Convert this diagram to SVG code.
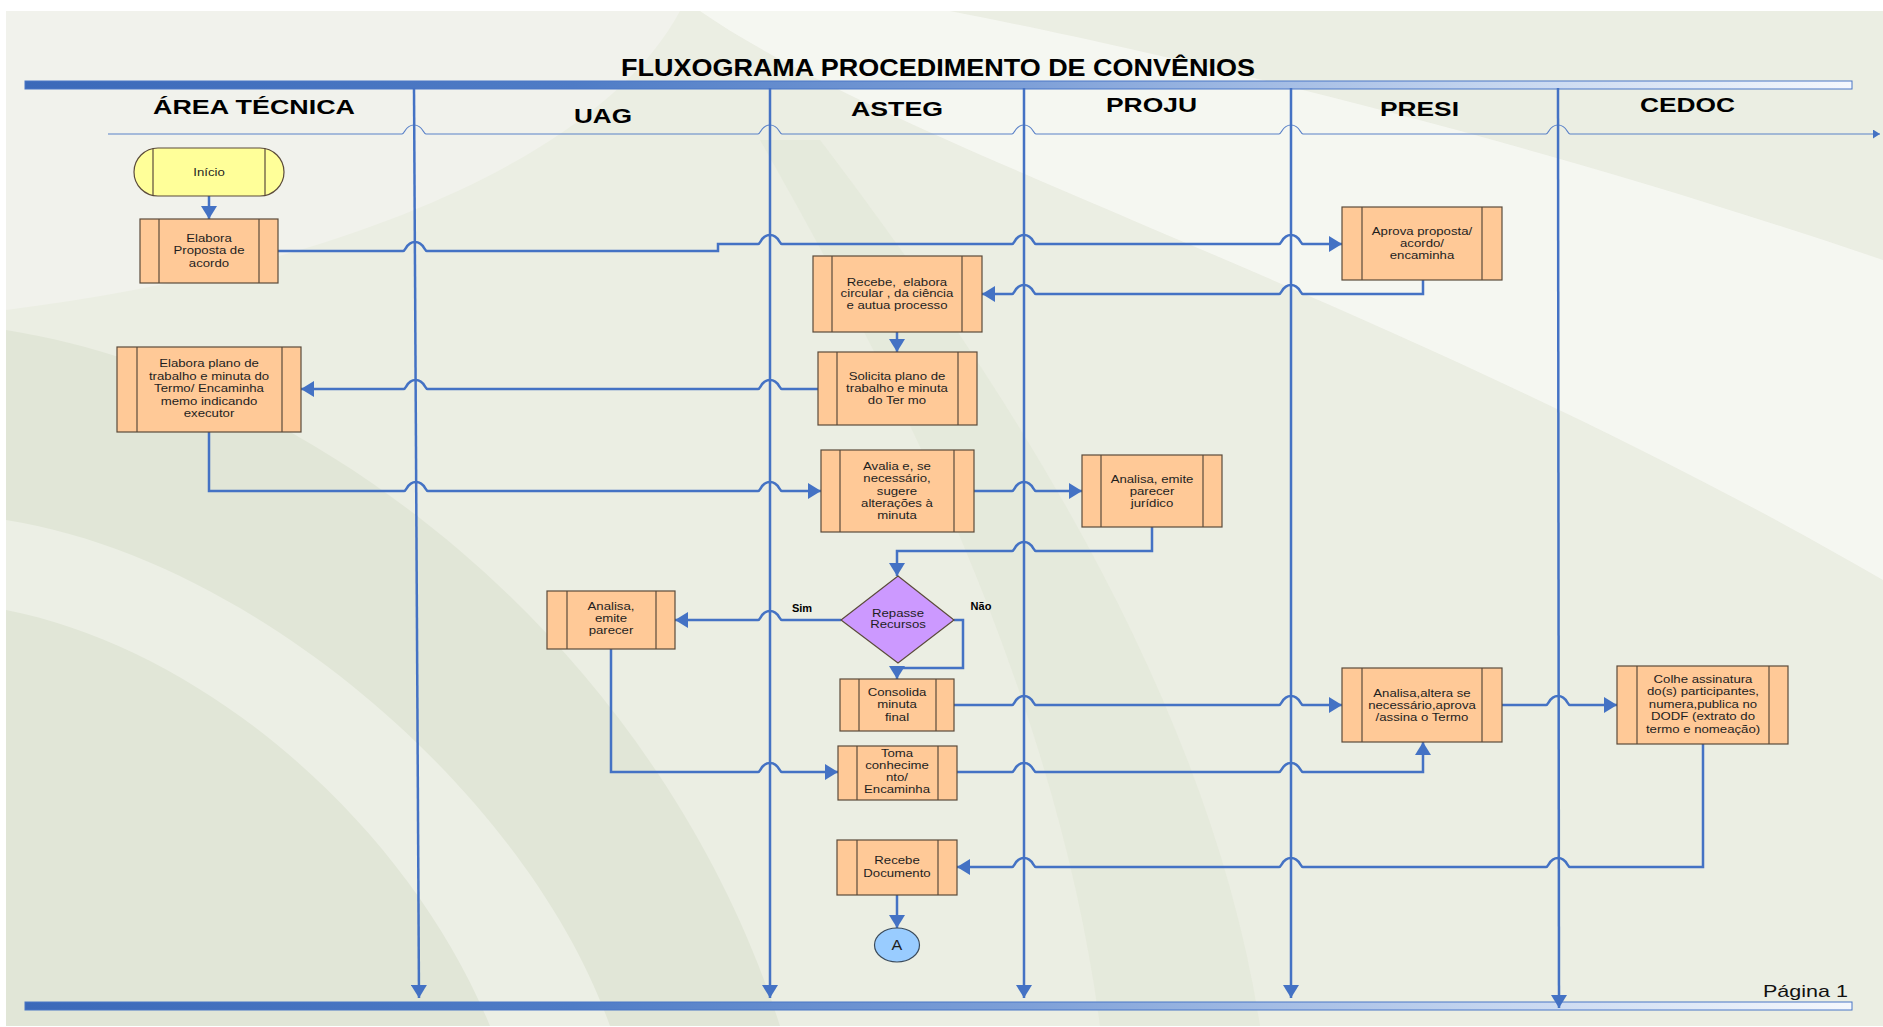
<svg xmlns="http://www.w3.org/2000/svg" width="1883" height="1027" viewBox="0 0 1883 1027">
<defs>
<linearGradient id="barG" x1="0" y1="0" x2="1" y2="0">
<stop offset="0" stop-color="#3B69B9"/>
<stop offset="0.3" stop-color="#4F7CC6"/>
<stop offset="0.55" stop-color="#7EA0D8"/>
<stop offset="0.8" stop-color="#C4D5EF"/>
<stop offset="1" stop-color="#F5F8FD"/>
</linearGradient>
<marker id="ah" markerUnits="userSpaceOnUse" markerWidth="13" markerHeight="16" viewBox="0 0 13 16" refX="13" refY="8" orient="auto"><path d="M0,0 L13,8 L0,16 Z" fill="#4472C4"/></marker>
<marker id="ahs" markerUnits="userSpaceOnUse" markerWidth="7" markerHeight="9" viewBox="0 0 7 9" refX="7" refY="4.5" orient="auto"><path d="M0,0 L7,4.5 L0,9 Z" fill="#4472C4"/></marker>
<style>
.box{fill:#FFC997;stroke:#5B4B3B;stroke-width:1.2}
.div{stroke:#5B4B3B;stroke-width:1.2}
.t text{font-family:"Liberation Sans",Arial,sans-serif;font-size:11px;fill:#1E1E1E;text-anchor:middle}
.lane{fill:none;stroke:#4472C4;stroke-width:2.5;marker-end:url(#ah)}
.con{fill:none;stroke:#4472C4;stroke-width:2.5;marker-end:url(#ah)}
.con2{fill:none;stroke:#4472C4;stroke-width:2.5}
.hdr{font-family:"Liberation Sans",Arial,sans-serif;font-weight:bold;font-size:21px;fill:#000}
.lbl{font-family:"Liberation Sans",Arial,sans-serif;font-weight:bold;font-size:11px;fill:#000;text-anchor:middle}
</style>
</defs>
<!-- background -->
<rect x="0" y="0" width="1883" height="1027" fill="#FFFFFF"/>
<rect x="6" y="11" width="1877" height="1015" fill="#EBEEE3"/>
<path d="M6,11 H680 C600,160 330,270 6,310 Z" fill="#F1F2EC"/>
<path d="M700,11 C900,150 1400,300 1883,580 L1883,260 C1500,130 1150,50 950,11 Z" fill="#F7F8F3" opacity="0.85"/>
<path d="M6,330 C320,380 660,650 780,1026 L6,1026 Z" fill="#E1E6D7"/>
<path d="M6,520 C260,560 530,800 610,1026 L490,1026 C410,830 210,650 6,610 Z" fill="#ECEFE5"/>
<path d="M760,140 C920,420 1060,720 1100,1026 L1260,1026 C1210,700 1010,390 820,140 Z" fill="#E3E8DA" opacity="0.8"/>

<!-- header -->
<g id="header">
<rect x="25" y="81" width="1827" height="8" fill="url(#barG)" stroke="#4A76C6" stroke-width="1"/>
<rect x="25" y="1002" width="1827" height="8" fill="url(#barG)" stroke="#4A76C6" stroke-width="1"/>
<text x="621" y="76" class="hdr" font-size="23" textLength="634" lengthAdjust="spacingAndGlyphs" style="font-size:23px">FLUXOGRAMA PROCEDIMENTO DE CONVÊNIOS</text>
<text x="153" y="114" class="hdr" textLength="202" lengthAdjust="spacingAndGlyphs">ÁREA TÉCNICA</text>
<text x="574" y="123" class="hdr" textLength="58" lengthAdjust="spacingAndGlyphs">UAG</text>
<text x="851" y="116" class="hdr" textLength="92" lengthAdjust="spacingAndGlyphs">ASTEG</text>
<text x="1106" y="112" class="hdr" textLength="91" lengthAdjust="spacingAndGlyphs">PROJU</text>
<text x="1380" y="116" class="hdr" textLength="79" lengthAdjust="spacingAndGlyphs">PRESI</text>
<text x="1640" y="112" class="hdr" textLength="95" lengthAdjust="spacingAndGlyphs">CEDOC</text>
<text x="1763" y="997" font-family="Liberation Sans, Arial, sans-serif" font-size="17" fill="#111" textLength="85" lengthAdjust="spacingAndGlyphs">Página 1</text>
<path d="M108,134 H402 C405,134 405,125 414,125 C423,125 423,134 426,134 H758 C761,134 761,125 770,125 C779,125 779,134 782,134 H1012 C1015,134 1015,125 1024,125 C1033,125 1033,134 1036,134 H1279 C1282,134 1282,125 1291,125 C1300,125 1300,134 1303,134 H1546 C1549,134 1549,125 1558,125 C1567,125 1567,134 1570,134 H1880" fill="none" stroke="#5B82C8" stroke-width="1.2" marker-end="url(#ahs)"/>
</g>

<!-- lanes -->
<g id="lanes">
<path class="lane" d="M414,88 L419,998"/>
<path class="lane" d="M770,88 V998"/>
<path class="lane" d="M1024,88 V998"/>
<path class="lane" d="M1291,88 V998"/>
<path class="lane" d="M1558,88 L1559,1008"/>
</g>

<!-- connectors -->
<g id="connectors">
<path class="con" d="M209,196 V219"/>
<path class="con" d="M278,251 H403 C406,251 406,242 415,242 C424,242 424,251 427,251 H718 V244 H758 C761,244 761,235 770,235 C779,235 779,244 782,244 H1012 C1015,244 1015,235 1024,235 C1033,235 1033,244 1036,244 H1279 C1282,244 1282,235 1291,235 C1300,235 1300,244 1303,244 H1342"/>
<path class="con" d="M1423,280 V294 H1303 C1300,294 1300,285 1291,285 C1282,285 1282,294 1279,294 H1036 C1033,294 1033,285 1024,285 C1015,285 1015,294 1012,294 H982"/>
<path class="con" d="M897,332 V352"/>
<path class="con" d="M818,389 H782 C779,389 779,380 770,380 C761,380 761,389 758,389 H427.6 C424.6,389 424.6,380 415.6,380 C406.6,380 406.6,389 403.6,389 H301"/>
<path class="con" d="M209,432 V491 H404 C407,491 407,482 416,482 C425,482 425,491 428,491 H758 C761,491 761,482 770,482 C779,482 779,491 782,491 H821"/>
<path class="con" d="M974,491 H1012 C1015,491 1015,482 1024,482 C1033,482 1033,491 1036,491 H1082"/>
<path class="con" d="M1152,527 V551 H1036 C1033,551 1033,542 1024,542 C1015,542 1015,551 1012,551 H897 V576"/>
<path class="con" d="M841,620 H782 C779,620 779,611 770,611 C761,611 761,620 758,620 H675"/>
<path class="con" d="M954,620 H963 V668 H897 V679"/>
<path class="con" d="M611,649 V772 H758 C761,772 761,763 770,763 C779,763 779,772 782,772 H838"/>
<path class="con" d="M954,705 H1012 C1015,705 1015,696 1024,696 C1033,696 1033,705 1036,705 H1279 C1282,705 1282,696 1291,696 C1300,696 1300,705 1303,705 H1342"/>
<path class="con" d="M957,772 H1012 C1015,772 1015,763 1024,763 C1033,763 1033,772 1036,772 H1279 C1282,772 1282,763 1291,763 C1300,763 1300,772 1303,772 H1423 V742"/>
<path class="con" d="M1502,705 H1546 C1549,705 1549,696 1558,696 C1567,696 1567,705 1570,705 H1617"/>
<path class="con" d="M1703,744 V867 H1570 C1567,867 1567,858 1558,858 C1549,858 1549,867 1546,867 H1303 C1300,867 1300,858 1291,858 C1282,858 1282,867 1279,867 H1036 C1033,867 1033,858 1024,858 C1015,858 1015,867 1012,867 H957"/>
<path class="con" d="M897,895 V928"/>
<text class="lbl" x="802" y="612">Sim</text>
<text class="lbl" x="981" y="610">Não</text>
</g>

<!-- nodes -->
<g id="n-inicio">
<path d="M158,148 H260 A24,24 0 0 1 260,196 H158 A24,24 0 0 1 158,148 Z" fill="#FFFF99" stroke="#5B4B3B" stroke-width="1.2"/>
<line class="div" x1="153" y1="148.5" x2="153" y2="195.5"/>
<line class="div" x1="265" y1="148.5" x2="265" y2="195.5"/>
<g class="t" transform="translate(209,0) scale(1.2,1)"><text y="176">Início</text></g>
</g>

<g id="n-elabora-proposta">
<rect class="box" x="140" y="219" width="138" height="64"/>
<line class="div" x1="159" y1="219" x2="159" y2="283"/>
<line class="div" x1="259" y1="219" x2="259" y2="283"/>
<g class="t" transform="translate(209,0) scale(1.2,1)"><text y="242">Elabora</text><text y="254.5">Proposta de</text><text y="267">acordo</text></g>
</g>

<g id="n-aprova">
<rect class="box" x="1342" y="207" width="160" height="73"/>
<line class="div" x1="1362" y1="207" x2="1362" y2="280"/>
<line class="div" x1="1482" y1="207" x2="1482" y2="280"/>
<g class="t" transform="translate(1422,0) scale(1.2,1)"><text y="235">Aprova proposta/</text><text y="247">acordo/</text><text y="259">encaminha</text></g>
</g>

<g id="n-recebe-elabora">
<rect class="box" x="813" y="256" width="169" height="76"/>
<line class="div" x1="832" y1="256" x2="832" y2="332"/>
<line class="div" x1="962" y1="256" x2="962" y2="332"/>
<g class="t" transform="translate(897,0) scale(1.2,1)"><text y="286" xml:space="preserve">Recebe,  elabora</text><text y="297.5">circular , da ciência</text><text y="309">e autua processo</text></g>
</g>

<g id="n-solicita">
<rect class="box" x="818" y="352" width="159" height="73"/>
<line class="div" x1="837" y1="352" x2="837" y2="425"/>
<line class="div" x1="958" y1="352" x2="958" y2="425"/>
<g class="t" transform="translate(897,0) scale(1.2,1)"><text y="380">Solicita plano de</text><text y="392">trabalho e minuta</text><text y="404">do Ter mo</text></g>
</g>

<g id="n-elabora-plano">
<rect class="box" x="117" y="347" width="184" height="85"/>
<line class="div" x1="137" y1="347" x2="137" y2="432"/>
<line class="div" x1="282" y1="347" x2="282" y2="432"/>
<g class="t" transform="translate(209,0) scale(1.2,1)"><text y="367">Elabora plano de</text><text y="379.6">trabalho e minuta do</text><text y="392.2">Termo/ Encaminha</text><text y="404.8">memo indicando</text><text y="417.4">executor</text></g>
</g>

<g id="n-avalia">
<rect class="box" x="821" y="450" width="153" height="82"/>
<line class="div" x1="840" y1="450" x2="840" y2="532"/>
<line class="div" x1="954" y1="450" x2="954" y2="532"/>
<g class="t" transform="translate(897,0) scale(1.2,1)"><text y="470">Avalia e, se</text><text y="482.3">necessário,</text><text y="494.6">sugere</text><text y="506.9">alterações à</text><text y="519.2">minuta</text></g>
</g>

<g id="n-parecer-juridico">
<rect class="box" x="1082" y="455" width="140" height="72"/>
<line class="div" x1="1101" y1="455" x2="1101" y2="527"/>
<line class="div" x1="1203" y1="455" x2="1203" y2="527"/>
<g class="t" transform="translate(1152,0) scale(1.2,1)"><text y="483">Analisa, emite</text><text y="495">parecer</text><text y="507">jurídico</text></g>
</g>

<g id="n-repasse">
<path d="M898,576 L954,620 L898,663 L841,620 Z" fill="#CC99FF" stroke="#5B4B3B" stroke-width="1.2"/>
<g class="t" transform="translate(898,0) scale(1.2,1)"><text y="617">Repasse</text><text y="628.5">Recursos</text></g>
</g>

<g id="n-analisa-uag">
<rect class="box" x="547" y="591" width="128" height="58"/>
<line class="div" x1="567" y1="591" x2="567" y2="649"/>
<line class="div" x1="656" y1="591" x2="656" y2="649"/>
<g class="t" transform="translate(611,0) scale(1.2,1)"><text y="610">Analisa,</text><text y="622">emite</text><text y="634">parecer</text></g>
</g>

<g id="n-consolida">
<rect class="box" x="840" y="679" width="114" height="52"/>
<line class="div" x1="859" y1="679" x2="859" y2="731"/>
<line class="div" x1="936" y1="679" x2="936" y2="731"/>
<g class="t" transform="translate(897,0) scale(1.2,1)"><text y="696">Consolida</text><text y="708.5">minuta</text><text y="721">final</text></g>
</g>

<g id="n-toma">
<rect class="box" x="838" y="746" width="119" height="54"/>
<line class="div" x1="857" y1="746" x2="857" y2="800"/>
<line class="div" x1="938" y1="746" x2="938" y2="800"/>
<g class="t" transform="translate(897,0) scale(1.2,1)"><text y="757">Toma</text><text y="769">conhecime</text><text y="781">nto/</text><text y="793">Encaminha</text></g>
</g>

<g id="n-analisa-altera">
<rect class="box" x="1342" y="668" width="160" height="74"/>
<line class="div" x1="1362" y1="668" x2="1362" y2="742"/>
<line class="div" x1="1482" y1="668" x2="1482" y2="742"/>
<g class="t" transform="translate(1422,0) scale(1.2,1)"><text y="697">Analisa,altera se</text><text y="709">necessário,aprova</text><text y="721">/assina o Termo</text></g>
</g>

<g id="n-colhe">
<rect class="box" x="1617" y="666" width="171" height="78"/>
<line class="div" x1="1637" y1="666" x2="1637" y2="744"/>
<line class="div" x1="1769" y1="666" x2="1769" y2="744"/>
<g class="t" transform="translate(1703,0) scale(1.2,1)"><text y="683">Colhe assinatura</text><text y="695.5">do(s) participantes,</text><text y="708">numera,publica no</text><text y="720.5">DODF (extrato do</text><text y="733">termo e nomeação)</text></g>
</g>

<g id="n-recebe-doc">
<rect class="box" x="837" y="840" width="120" height="55"/>
<line class="div" x1="857" y1="840" x2="857" y2="895"/>
<line class="div" x1="938" y1="840" x2="938" y2="895"/>
<g class="t" transform="translate(897,0) scale(1.2,1)"><text y="864">Recebe</text><text y="877">Documento</text></g>
</g>

<g id="n-a">
<ellipse cx="897" cy="945" rx="22.5" ry="17" fill="#99CCFF" stroke="#3B4B5B" stroke-width="1.2"/>
<text x="897" y="950" font-family="Liberation Sans, Arial, sans-serif" font-size="14" fill="#1E1E1E" text-anchor="middle" transform="translate(897,0) scale(1.15,1) translate(-897,0)">A</text>
</g>
</svg>
